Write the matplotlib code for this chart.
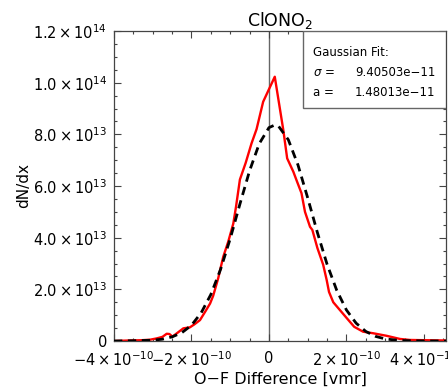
import numpy as np
import matplotlib
matplotlib.use('Agg')
import matplotlib.pyplot as plt
from matplotlib.ticker import FixedLocator, FixedFormatter, MultipleLocator
from matplotlib.patches import Rectangle

# O-F difference histogram (x in 1e-10 vmr, y in 1e13)
x_red = [-4.0, -3.6, -3.3, -3.07, -2.9, -2.75, -2.64, -2.57, -2.49, -2.35, -2.21, -2.04,
         -1.92, -1.78, -1.64, -1.52, -1.44, -1.31, -1.18, -1.05, -0.92, -0.85, -0.75, -0.6,
         -0.45, -0.32, -0.15, 0.15, 0.37, 0.47, 0.63, 0.71, 0.84, 0.93, 1.06, 1.12, 1.25,
         1.40, 1.49, 1.55, 1.66, 1.83, 2.0, 2.2, 2.43, 2.69, 3.04, 3.38, 3.64, 4.07, 4.57]
y_red = [0.0, 0.02, 0.03, 0.05, 0.10, 0.16, 0.28, 0.27, 0.17, 0.33, 0.49, 0.53,
         0.65, 0.81, 1.15, 1.45, 1.75, 2.43, 3.26, 3.85, 4.55, 5.2, 6.25, 6.9,
         7.65, 8.2, 9.26, 10.23, 8.17, 7.07, 6.55, 6.23, 5.72, 5.0, 4.42, 4.3, 3.6,
         2.95, 2.36, 1.9, 1.5, 1.2, 0.9, 0.55, 0.36, 0.3, 0.2, 0.08, 0.04, 0.03, 0.02]

# gaussian fit curve
x_fit = [-4.0, -3.5, -3.0, -2.75, -2.5, -2.25, -2.0, -1.75, -1.5, -1.25, -1.0, -0.75, -0.5,
         -0.25, 0.0, 0.15, 0.25, 0.5, 0.75, 1.0, 1.25, 1.5, 1.75, 2.0, 2.25, 2.5, 2.75,
         3.0, 3.25, 3.5, 4.0, 4.57]
y_fit = [0.0, 0.01, 0.03, 0.07, 0.16, 0.32, 0.61, 1.09, 1.80, 2.77, 3.96, 5.30, 6.59,
         7.64, 8.26, 8.36, 8.31, 7.79, 6.81, 5.54, 4.20, 2.97, 1.96, 1.20, 0.69, 0.37, 0.18,
         0.08, 0.04, 0.015, 0.002, 0.0]

sigma_txt = '9.40503e\u221211'
mu_txt = '1.48013e\u221211'

xticks = [-4e-10, -2e-10, 0, 2e-10, 4e-10]
xticklabels = [r'$-4\times10^{-10}$', r'$-2\times10^{-10}$', '0', r'$2\times10^{-10}$', r'$4\times10^{-10}$']
yticks = [0, 2e13, 4e13, 6e13, 8e13, 1e14, 1.2e14]
yticklabels = ['0', r'$2.0\times10^{13}$', r'$4.0\times10^{13}$', r'$6.0\times10^{13}$',
               r'$8.0\times10^{13}$', r'$1.0\times10^{14}$', r'$1.2\times10^{14}$']

axcol = '#444444'

fig = plt.figure(figsize=(4.48, 3.89), dpi=100)
ax = fig.add_axes([114/448, 1 - 341/389, 332/448, 310/389])

ax.axvline(0, color='#666666', lw=1.0, zorder=1)
ax.plot(np.array(x_red) * 1e-10, np.array(y_red) * 1e13, color='#ff0000', lw=1.7, zorder=2)
ax.plot(np.array(x_fit) * 1e-10, np.array(y_fit) * 1e13, color='black', lw=2.0,
        linestyle=(0, (3, 2)), zorder=3)

ax.set_xlim(-4e-10, 4.57e-10)
ax.set_ylim(0, 1.2e14)

ax.xaxis.set_major_locator(FixedLocator(xticks))
ax.xaxis.set_major_formatter(FixedFormatter(xticklabels))
ax.yaxis.set_major_locator(FixedLocator(yticks))
ax.yaxis.set_major_formatter(FixedFormatter(yticklabels))
ax.xaxis.set_minor_locator(MultipleLocator(5e-11))
ax.yaxis.set_minor_locator(MultipleLocator(5e12))

ax.tick_params(which='both', direction='in', top=True, right=True, color=axcol, width=0.8)
ax.tick_params(which='major', length=5, labelsize=10.5, pad=5)
ax.tick_params(which='minor', length=2.5)
ax.tick_params(axis='x', which='major', pad=7)
for s in ax.spines.values():
    s.set_color(axcol)
    s.set_linewidth(0.9)

ax.set_title('ClONO$_2$', fontsize=12.5, pad=3)
ax.set_xlabel('O\u2212F Difference [vmr]', fontsize=11.5, labelpad=2)
ax.set_ylabel('dN/dx', fontsize=11)
ax.yaxis.set_label_coords(-0.25, 0.5)

# fit parameter box
ax.add_patch(Rectangle((0.569, 0.752), 0.431, 0.248, transform=ax.transAxes,
                       facecolor='white', edgecolor='#666666', lw=1.0, zorder=4))
ax.text(0.599, 0.932, 'Gaussian Fit:', transform=ax.transAxes, fontsize=8.5,
        va='center', ha='left', zorder=5)
ax.text(0.599, 0.865, r'$\sigma$ =', transform=ax.transAxes, fontsize=8.5,
        va='center', ha='left', zorder=5)
ax.text(0.726, 0.865, sigma_txt, transform=ax.transAxes, fontsize=8.5,
        va='center', ha='left', zorder=5)
ax.text(0.599, 0.803, 'a =', transform=ax.transAxes, fontsize=8.5,
        va='center', ha='left', zorder=5)
ax.text(0.726, 0.803, mu_txt, transform=ax.transAxes, fontsize=8.5,
        va='center', ha='left', zorder=5)

fig.savefig('out.png', dpi=100)
